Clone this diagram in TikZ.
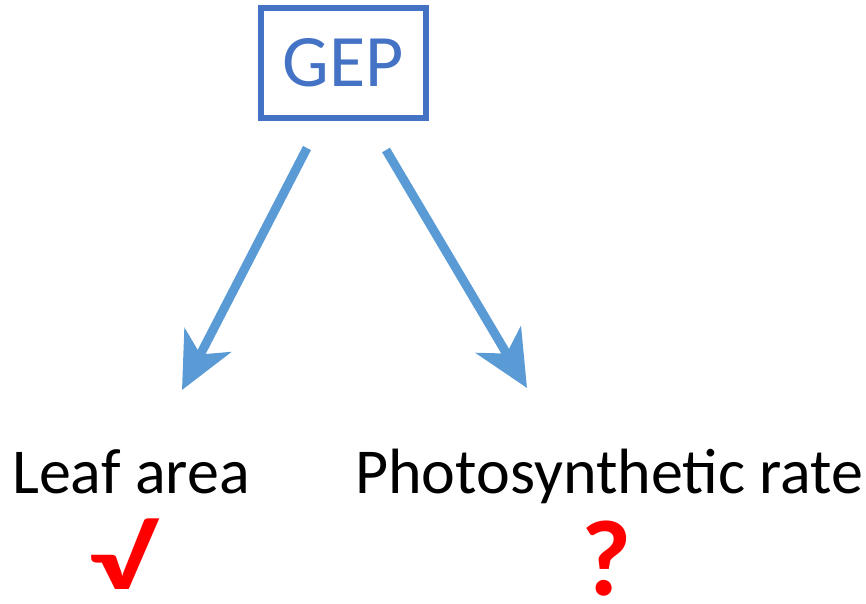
\documentclass[tikz,border=0pt]{standalone}
\usepackage{fontspec}
\setmainfont{Carlito}
\usetikzlibrary{arrows.meta}
\definecolor{boxblue}{RGB}{68,114,196}
\definecolor{arrowblue}{RGB}{91,155,213}
\definecolor{markred}{RGB}{255,0,0}
\begin{document}
\begin{tikzpicture}[x=1pt,y=-1pt,
  gepbox/.style={draw=boxblue,line width=5.5pt,text=boxblue,minimum width=165pt,minimum height=110pt,inner sep=0pt,
    font=\fontsize{74}{86}\selectfont},
  txtlabel/.style={anchor=base west,inner sep=0pt,font=\fontsize{64}{76}\selectfont},
  redmark/.style={inner sep=0pt,text=markred},
  link/.style={draw=arrowblue,line width=9pt,-{Stealth[length=56pt,width=52pt,inset=16pt]}}
]
\useasboundingbox (0,0) rectangle (866,603);
\node[gepbox] (gep) at (343.5,63) {GEP};
\node[txtlabel] (leaf) at (12,493) {Leaf area};
\node[txtlabel] (photo) at (355,493) {Photosynthetic rate};
\node[redmark,font=\bfseries\fontsize{88}{90}\selectfont] (check) at (121,554) {\scalebox{1.5}[1]{√}};
\node[redmark,font=\bfseries\fontsize{108}{110}\selectfont] (quest) at (607,559) {?};
% arrow ends
\coordinate (ls) at (307,148);
\coordinate (le) at (182,390);
\coordinate (rs) at (386,150);
\coordinate (re) at (527,388);
\draw[link] (ls) -- (le);
\draw[link] (rs) -- (re);
\end{tikzpicture}
\end{document}
